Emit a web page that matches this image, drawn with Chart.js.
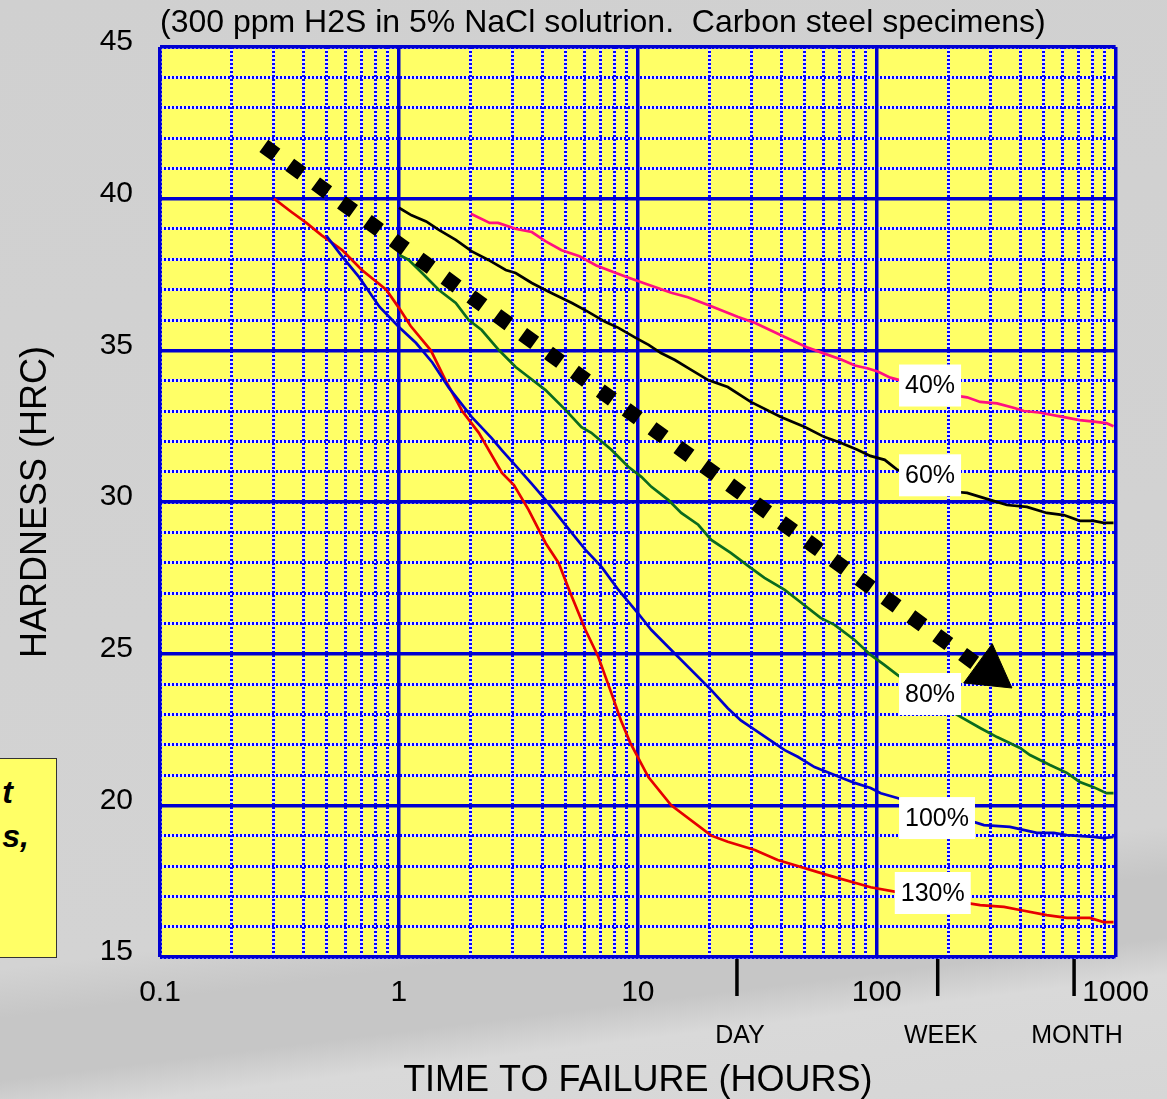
<!DOCTYPE html>
<html>
<head>
<meta charset="utf-8">
<title>Hardness vs time to failure</title>
<script src="https://cdn.jsdelivr.net/npm/chart.js@4.4.1/dist/chart.umd.min.js"></script>
<style>
  html, body { margin: 0; padding: 0; }
  body {
    width: 1167px; height: 1099px; overflow: hidden; position: relative;
    background: linear-gradient(173deg, #d0d0d0 0%, #d3d3d3 78%, #c6c6c6 82%, #c6c6c6 87%, #d9d9d9 90%, #d6d6d6 100%);
    font-family: 'Liberation Sans', Arial, sans-serif;
  }
  #wrap { position: absolute; left: 0; top: 0; width: 1167px; height: 1099px; }
  #note {
    position: absolute; left: -20px; top: 758px; width: 75px; height: 198px;
    background: #ffff66; border: 1px solid #333; overflow: hidden;
    font: italic bold 32px 'Liberation Sans', Arial, sans-serif; line-height: 32px; color: #000;
  }
  #note span { position: absolute; white-space: nowrap; }
</style>
</head>
<body>
<div id="note"><span style="right:43px; top:17px;">t</span><span style="right:27px; top:61px;">s,</span></div>
<div id="wrap"><canvas id="chart" width="1167" height="1099"></canvas></div>
<script>
// values: time to failure (hours) and hardness (HRC)
const hours40 = [2.0, 2.4, 2.6, 3.1, 3.6, 4.1, 4.8, 5.7, 6.7, 8.1, 9.1, 10.7, 13.8, 16.2, 20.3, 26.3, 31, 41, 51, 60, 71, 81, 92, 101, 114, 217, 239, 271, 319, 377, 413, 478, 607, 708, 809, 915, 980];
const hrc40 = [39.5, 39.2, 39.2, 39.0, 38.9, 38.6, 38.3, 38.1, 37.8, 37.55, 37.4, 37.2, 36.9, 36.75, 36.45, 36.1, 35.9, 35.45, 35.1, 34.9, 34.7, 34.5, 34.4, 34.3, 34.1, 33.5, 33.45, 33.3, 33.25, 33.1, 33.0, 32.95, 32.8, 32.7, 32.65, 32.6, 32.5];

const hours60 = [1.0, 1.13, 1.3, 1.47, 1.73, 2.02, 2.37, 2.8, 3.08, 3.6, 4.1, 4.5, 5.3, 6.2, 7.3, 8.3, 9.8, 11.1, 12.5, 14.3, 16.2, 19.7, 23.8, 29.7, 39.7, 50, 60.5, 70.6, 83, 94, 108, 122, 217, 239, 298, 351, 425, 515, 607, 708, 809, 891, 980];
const hrc60 = [39.7, 39.45, 39.25, 38.97, 38.64, 38.26, 37.98, 37.65, 37.55, 37.22, 36.99, 36.83, 36.56, 36.27, 35.94, 35.74, 35.41, 35.18, 34.91, 34.68, 34.42, 34.02, 33.79, 33.3, 32.8, 32.47, 32.14, 31.95, 31.72, 31.52, 31.39, 31.06, 30.33, 30.3, 30.07, 29.9, 29.84, 29.64, 29.57, 29.38, 29.38, 29.31, 29.31];

const hours80 = [1.0, 1.1, 1.25, 1.47, 1.73, 1.96, 2.22, 2.62, 3.08, 3.49, 4.11, 4.99, 5.81, 6.39, 7.75, 9.12, 10.35, 11.4, 13.4, 15.2, 17.9, 20.3, 24.5, 29.7, 33.9, 41.2, 46.7, 58.2, 66.6, 80.8, 94.3, 107.6, 122, 217, 271, 319, 398, 438, 531, 625, 708, 809, 915, 980];
const hrc80 = [38.15, 37.98, 37.55, 36.99, 36.56, 36.0, 35.67, 35.01, 34.45, 34.12, 33.69, 33.03, 32.47, 32.28, 31.72, 31.16, 30.83, 30.5, 30.07, 29.64, 29.25, 28.75, 28.32, 27.83, 27.5, 27.1, 26.77, 26.18, 25.95, 25.45, 24.96, 24.63, 24.3, 22.98, 22.55, 22.25, 21.89, 21.66, 21.33, 21.07, 20.77, 20.6, 20.4, 20.4];

const hours100 = [0.5, 0.58, 0.68, 0.83, 1.0, 1.18, 1.38, 1.62, 2.02, 2.45, 2.7, 3.08, 3.6, 4.11, 5.29, 6.04, 7.05, 8.3, 10.0, 11.4, 13.8, 20.3, 23.8, 27, 31.8, 41.2, 46.7, 54.9, 66.6, 80.8, 94.3, 104, 122, 281, 361, 468, 551, 625, 809, 891, 980];
const hrc100 = [38.75, 38.08, 37.42, 36.43, 35.77, 35.24, 34.6, 33.76, 32.8, 32.1, 31.7, 31.2, 30.6, 30.07, 28.98, 28.42, 27.86, 27.1, 26.34, 25.78, 25.12, 23.8, 23.2, 22.8, 22.42, 21.82, 21.6, 21.26, 21.0, 20.74, 20.57, 20.4, 20.24, 19.35, 19.29, 19.09, 19.09, 19.02, 18.96, 18.92, 18.96];

const hours130 = [0.3, 0.355, 0.41, 0.474, 0.58, 0.70, 0.885, 1.0, 1.12, 1.36, 1.57, 1.84, 2.16, 2.7, 3.03, 3.49, 4.11, 4.66, 5.22, 6.04, 6.83, 7.75, 8.5, 9.3, 11.07, 13.8, 20.3, 23.8, 30.9, 38.5, 62.4, 94.3, 122, 271, 341, 398, 515, 625, 780, 891, 980];
const hrc130 = [40.0, 39.56, 39.2, 38.8, 38.3, 37.65, 37.0, 36.4, 35.8, 35.0, 34.0, 33.0, 32.28, 30.96, 30.56, 29.74, 28.65, 27.99, 27.0, 25.78, 24.9, 23.7, 22.8, 22.06, 20.93, 20.0, 19.0, 18.8, 18.53, 18.2, 17.7, 17.3, 17.14, 16.71, 16.65, 16.55, 16.38, 16.29, 16.29, 16.15, 16.15];

// dotted trend arrow
const arrowHours = [0.272, 263];
const arrowHrc = [41.74, 24.64];
const arrowHeadHours = [296];
const arrowHeadHrc = [24.41];

// curve labels (left edge in hours, centre in HRC)
const curveNames = ['40%', '60%', '80%', '100%', '130%'];
const labelHours = [124, 124, 124, 124, 119];
const labelHrc = [33.84, 30.88, 23.67, 19.58, 17.11];

// axes
const xTicks = [0.1, 0.2, 0.3, 0.4, 0.5, 0.6, 0.7, 0.8, 0.9,
  1, 2, 3, 4, 5, 6, 7, 8, 9,
  10, 20, 30, 40, 50, 60, 70, 80, 90,
  100, 200, 300, 400, 500, 600, 700, 800, 900, 1000];
const xDecades = [0.1, 1, 10, 100, 1000];
const xTickLabels = ['0.1', '1', '10', '100', '1000'];
const timeMarks = ['DAY', 'WEEK', 'MONTH'];
const timeMarkHours = [26, 180, 670];

const FONT = "'Liberation Sans', Arial, sans-serif";
Chart.defaults.font.family = FONT;
Chart.defaults.color = '#000';

function curve(name, hours, hrc, color) {
  return {
    label: name,
    data: hours.map((h, i) => ({x: h, y: hrc[i]})),
    borderColor: color,
    borderWidth: 2.7,
    pointRadius: 0,
    tension: 0,
    fill: false,
    xAxisID: 'x',
    yAxisID: 'y'
  };
}

const plotBackground = {
  id: 'plotBackground',
  beforeDraw(chart) {
    const {ctx, chartArea: a} = chart;
    ctx.save();
    ctx.fillStyle = '#ffff66';
    ctx.fillRect(a.left, a.top, a.right - a.left, a.bottom - a.top);
    ctx.restore();
  }
};

const curveLabels = {
  id: 'curveLabels',
  afterDatasetsDraw(chart) {
    const {ctx, scales: {x, y}} = chart;
    ctx.save();
    ctx.font = '25px ' + FONT;
    ctx.textBaseline = 'middle';
    curveNames.forEach((name, i) => {
      const left = x.getPixelForValue(labelHours[i]);
      const mid = y.getPixelForValue(labelHrc[i]);
      const w = ctx.measureText(name).width + 12;
      ctx.fillStyle = '#ffffff';
      ctx.fillRect(left, mid - 21, w, 42);
      ctx.fillStyle = '#000';
      ctx.fillText(name, left + 6, mid + 1);
    });
    ctx.restore();
  }
};

const timeMarkers = {
  id: 'timeMarkers',
  afterDraw(chart) {
    const {ctx, scales: {x}, chartArea: a} = chart;
    ctx.save();
    ctx.strokeStyle = '#000';
    ctx.lineWidth = 3.5;
    ctx.fillStyle = '#000';
    ctx.font = '25px ' + FONT;
    ctx.textAlign = 'center';
    ctx.textBaseline = 'middle';
    timeMarks.forEach((m, i) => {
      const px = x.getPixelForValue(timeMarkHours[i]);
      ctx.beginPath();
      ctx.moveTo(px, a.bottom + 2);
      ctx.lineTo(px, a.bottom + 39);
      ctx.stroke();
      ctx.fillText(m, px + 3, a.bottom + 79);
    });
    ctx.restore();
  }
};

const setXTicks = s => { s.ticks = xTicks.map(v => ({value: v})); };
const setDecades = s => { s.ticks = xDecades.map(v => ({value: v})); };
const hidden = {display: false};

new Chart(document.getElementById('chart'), {
  type: 'line',
  data: {
    datasets: [
      {
        data: arrowHeadHours.map((h, i) => ({x: h, y: arrowHeadHrc[i]})),
        showLine: false,
        pointStyle: 'triangle',
        pointRadius: 28,
        pointRotation: 126,
        pointBackgroundColor: '#000',
        pointBorderColor: '#000',
        pointBorderWidth: 1,
        xAxisID: 'x', yAxisID: 'y'
      },
      {
        data: arrowHours.map((h, i) => ({x: h, y: arrowHrc[i]})),
        borderColor: '#000',
        borderWidth: 15,
        borderDash: [15, 17],
        borderCapStyle: 'butt',
        pointRadius: 0,
        xAxisID: 'x', yAxisID: 'y'
      },
      curve('40%', hours40, hrc40, '#ff1080'),
      curve('60%', hours60, hrc60, '#000000'),
      curve('80%', hours80, hrc80, '#0b6b1e'),
      curve('100%', hours100, hrc100, '#0000cc'),
      curve('130%', hours130, hrc130, '#e60000')
    ]
  },
  options: {
    responsive: false,
    animation: false,
    events: [],
    layout: {padding: {left: 0, right: 47, top: 0, bottom: 0}},
    plugins: {
      legend: hidden,
      tooltip: {enabled: false},
      title: {
        display: true,
        text: '(300 ppm H2S in 5% NaCl solutrion.  Carbon steel specimens)',
        align: 'start',
        fullSize: false,
        color: '#000',
        font: {size: 32, weight: 'normal', lineHeight: 1.2},
        padding: {top: 3.5, bottom: 5.1}
      }
    },
    scales: {
      // light underlay of the minor grid
      xw: {
        type: 'logarithmic', axis: 'x', position: 'bottom', min: 0.1, max: 1000,
        afterBuildTicks: setXTicks,
        ticks: {display: false}, border: {display: false},
        grid: {color: '#e4e4ff', lineWidth: 3, drawTicks: false}
      },
      yw: {
        type: 'linear', axis: 'y', position: 'left', min: 15, max: 45,
        ticks: {display: false, stepSize: 1}, border: {display: false},
        grid: {color: '#e4e4ff', lineWidth: 3, drawTicks: false}
      },
      x: {
        type: 'logarithmic', position: 'bottom', min: 0.1, max: 1000,
        afterBuildTicks: setXTicks,
        afterFit: s => { s.height = 142; },
        ticks: {
          autoSkip: false, maxRotation: 0, minRotation: 0, padding: 18,
          font: {size: 30},
          callback: v => { const i = xDecades.indexOf(v); return i < 0 ? '' : xTickLabels[i]; }
        },
        grid: {color: '#0000ff', lineWidth: 3, drawTicks: false},
        border: {display: false, dash: [2, 2]},
        title: {
          display: true, text: 'TIME TO FAILURE (HOURS)',
          font: {size: 36, lineHeight: 1}, padding: {top: 0, bottom: 0}
        }
      },
      y: {
        type: 'linear', position: 'left', min: 15, max: 45,
        afterFit: s => { s.width = 160; },
        ticks: {
          stepSize: 1, autoSkip: false, padding: 27, labelOffset: -5,
          font: {size: 30},
          callback: v => (v % 5 === 0 ? String(v) : '')
        },
        grid: {color: '#0000ff', lineWidth: 3, drawTicks: false},
        border: {display: false, dash: [2, 2]},
        title: {
          display: true, text: 'HARDNESS (HRC)',
          font: {size: 36, lineHeight: 1.2}, padding: {top: 14, bottom: 0}
        }
      },
      // solid decade / every-5 lines, also forming the frame
      xm: {
        type: 'logarithmic', axis: 'x', position: 'bottom', min: 0.1, max: 1000,
        afterBuildTicks: setDecades,
        ticks: {display: false}, border: {display: false},
        grid: {color: '#0000d0', lineWidth: 3.5, drawTicks: false}
      },
      ym: {
        type: 'linear', axis: 'y', position: 'left', min: 15, max: 45,
        ticks: {display: false, stepSize: 5}, border: {display: false},
        grid: {color: '#0000d0', lineWidth: 3.5, drawTicks: false}
      }
    }
  },
  plugins: [plotBackground, curveLabels, timeMarkers]
});
</script>
</body>
</html>
